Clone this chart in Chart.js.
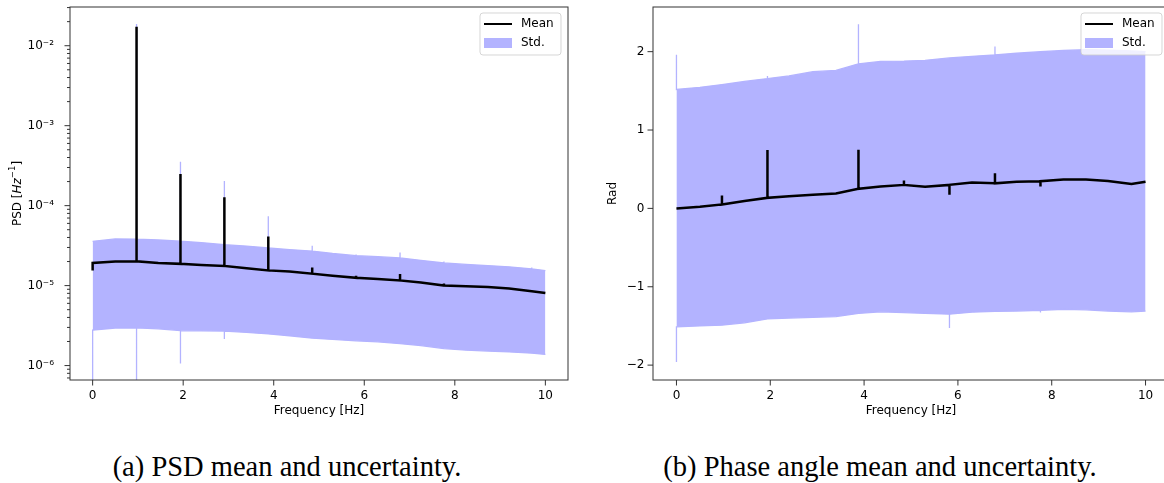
<!DOCTYPE html>
<html>
<head>
<meta charset="utf-8">
<script src="https://cdn.jsdelivr.net/npm/chart.js@4"></script>
<style>
  html, body { margin: 0; padding: 0; background: #fff; }
  body { width: 1164px; height: 483px; overflow: hidden; position: relative; }
  canvas { position: absolute; top: 0; }
  #psdChart { left: 0; }
  #phaseChart { left: 582px; }
  .cap { position: absolute; top: 453px; white-space: nowrap; transform: translateX(-50%);
         font-family: 'Liberation Serif', serif; font-size: 28.5px; line-height: 28px; color: #000; }
</style>
</head>
<body>
<canvas id="psdChart" width="582" height="420"></canvas>
<canvas id="phaseChart" width="600" height="420"></canvas>
<div class="cap" style="left:287px">(a) PSD mean and uncertainty.</div>
<div class="cap" style="left:880px">(b) Phase angle mean and uncertainty.</div>
<script>
// frequency grid (Hz), spikes sit on the 0.97 Hz harmonics
const freq = [0, 0.5, 0.97, 1.45, 1.94, 2.4, 2.91, 3.4, 3.88, 4.35, 4.85, 5.3, 5.82, 6.3, 6.79, 7.25, 7.76, 8.25, 8.73, 9.2, 9.70, 10]

// PSD (left)
const psdMean = [1.92e-5, 2.0e-5, 2.01e-5, 1.92e-5, 1.87e-5, 1.81e-5, 1.76e-5, 1.65e-5, 1.55e-5, 1.5e-5, 1.41e-5, 1.33e-5, 1.25e-5, 1.21e-5, 1.16e-5, 1.09e-5, 1.0e-5, 9.8e-6, 9.6e-6, 9.2e-6, 8.5e-6, 8.1e-6]
const psdMeanSpike = [1.54e-5, null, 1.73e-2, null, 2.49e-4, null, 1.27e-4, null, 4.1e-5, null, 1.69e-5, null, 1.33e-5, null, 1.4e-5, null, 1.06e-5, null, null, null, null, null]
const psdUpper = [3.58e-5, 3.83e-5, 3.82e-5, 3.72e-5, 3.6e-5, 3.45e-5, 3.25e-5, 3.12e-5, 2.96e-5, 2.82e-5, 2.7e-5, 2.52e-5, 2.37e-5, 2.3e-5, 2.22e-5, 2.07e-5, 1.92e-5, 1.84e-5, 1.78e-5, 1.72e-5, 1.62e-5, 1.54e-5]
const psdUpperSpike = [null, null, 1.87e-2, null, 3.55e-4, null, 2.04e-4, null, 7.35e-5, null, 3.16e-5, null, 2.45e-5, null, 2.6e-5, null, 2.0e-5, null, null, null, 1.68e-5, null]
const psdLower = [2.77e-6, 2.95e-6, 2.96e-6, 2.88e-6, 2.74e-6, 2.72e-6, 2.7e-6, 2.6e-6, 2.49e-6, 2.36e-6, 2.2e-6, 2.12e-6, 2.04e-6, 1.98e-6, 1.88e-6, 1.78e-6, 1.63e-6, 1.56e-6, 1.52e-6, 1.48e-6, 1.43e-6, 1.38e-6]
const psdLowerSpike = [3e-7, null, 3e-7, null, 1.06e-6, null, 2.15e-6, null, null, null, null, null, null, null, null, null, null, null, null, null, null, null]

// phase angle (right)
const phaseMean = [0.0, 0.02, 0.05, 0.095, 0.135, 0.155, 0.175, 0.19, 0.25, 0.28, 0.30, 0.275, 0.30, 0.33, 0.32, 0.34, 0.347, 0.37, 0.37, 0.35, 0.31, 0.34]
const phaseMeanSpike = [null, null, 0.165, null, 0.744, null, null, null, 0.748, null, 0.355, null, 0.174, null, 0.448, null, 0.279, null, null, null, null, null]
const phaseUpper = [1.517, 1.545, 1.58, 1.62, 1.656, 1.69, 1.745, 1.76, 1.845, 1.876, 1.88, 1.89, 1.92, 1.94, 1.96, 1.98, 2.0, 2.015, 2.025, 2.02, 2.01, 2.0]
const phaseUpperSpike = [1.96, null, null, null, 1.69, null, null, null, 2.35, null, null, null, null, null, 2.066, null, null, null, null, null, null, null]
const phaseLower = [-1.512, -1.50, -1.49, -1.46, -1.41, -1.40, -1.39, -1.38, -1.34, -1.32, -1.33, -1.34, -1.35, -1.325, -1.315, -1.31, -1.30, -1.29, -1.295, -1.31, -1.32, -1.31]
const phaseLowerSpike = [-1.96, null, null, null, null, null, null, null, null, null, null, null, -1.525, null, null, null, -1.33, null, null, null, null, null]

const xTicks = [0, 2, 4, 6, 8, 10]
const psdTicks = [1e-6, 1e-5, 1e-4, 1e-3, 1e-2]
const psdTickLabels = ['10⁻⁶', '10⁻⁵', '10⁻⁴', '10⁻³', '10⁻²']
const phaseTicks = [-2, -1, 0, 1, 2]
const phaseTickLabels = ['−2', '−1', '0', '1', '2']
const legendLabels = ['Mean', 'Std.']

const BAND = 'rgb(179,179,255)'
const AXIS = '#333'
Chart.defaults.font.family = 'DejaVu Sans'
Chart.defaults.font.size = 12
Chart.defaults.color = '#000'

// a spike is drawn as base -> peak -> base at the same frequency
function series(base, spikes, mask) {
	const pts = []
	freq.forEach((f, i) => {
		pts.push({ x: f, y: base[i] })
		if (mask[i]) {
			const p = spikes[i] !== null ? spikes[i] : base[i]
			pts.push({ x: f, y: p }, { x: f, y: base[i] })
		}
	})
	return pts
}
const maskOf = (...arrs) => freq.map((f, i) => arrs.some((a) => a[i] !== null))

function datasets(mean, meanSpk, up, upSpk, lo, loSpk) {
	const m = maskOf(meanSpk)
	const b = maskOf(upSpk, loSpk)
	return [
		{ label: legendLabels[0], data: series(mean, meanSpk, m), borderColor: '#000', borderWidth: 2.5, pointRadius: 0, fill: false },
		{ label: legendLabels[1], data: series(up, upSpk, b), borderColor: BAND, borderWidth: 1.3, pointRadius: 0, fill: false },
		{ label: '', data: series(lo, loSpk, b), borderColor: BAND, backgroundColor: BAND, borderWidth: 1.3, pointRadius: 0, fill: '-1' },
	]
}

const frame = {
	id: 'frame',
	afterDraw(chart) {
		const { ctx, chartArea: a, scales } = chart
		ctx.save()
		ctx.strokeStyle = AXIS
		ctx.lineWidth = 1
		ctx.strokeRect(a.left, a.top, a.right - a.left, a.bottom - a.top)
		ctx.beginPath()
		scales.x.ticks.forEach((t) => {
			const px = scales.x.getPixelForValue(t.value)
			ctx.moveTo(px, a.bottom)
			ctx.lineTo(px, a.bottom + 5.5)
		})
		scales.y.ticks.forEach((t) => {
			const py = scales.y.getPixelForValue(t.value)
			if (py < a.top - 0.5 || py > a.bottom + 0.5) return
			ctx.moveTo(a.left, py)
			ctx.lineTo(a.left - (t.major ? 5.5 : 3), py)
		})
		ctx.stroke()
		ctx.restore()
	},
}

const legendBox = {
	id: 'legendBox',
	afterDraw(chart) {
		const { ctx, chartArea: a } = chart
		const w = 81, h = 42
		const x0 = a.right - 7 - w, y0 = a.top + 6
		ctx.save()
		ctx.beginPath()
		ctx.roundRect(x0, y0, w, h, 3)
		ctx.fillStyle = 'rgba(255,255,255,0.8)'
		ctx.fill()
		ctx.strokeStyle = 'rgba(204,204,204,0.8)'
		ctx.lineWidth = 1
		ctx.stroke()
		ctx.beginPath()
		ctx.moveTo(x0 + 4, y0 + 11)
		ctx.lineTo(x0 + 32, y0 + 11)
		ctx.strokeStyle = '#000'
		ctx.lineWidth = 2
		ctx.stroke()
		ctx.fillStyle = BAND
		ctx.fillRect(x0 + 4, y0 + 25, 28, 10)
		ctx.fillStyle = '#000'
		ctx.font = '12px "DejaVu Sans"'
		ctx.textBaseline = 'middle'
		ctx.fillText(legendLabels[0], x0 + 41, y0 + 11)
		ctx.fillText(legendLabels[1], x0 + 41, y0 + 30)
		ctx.restore()
	},
}

// y title with italic Hz and a raised exponent
const psdTitle = {
	id: 'psdTitle',
	afterDraw(chart) {
		const { ctx, chartArea: a } = chart
		const parts = [
			{ t: 'PSD [', f: '12px "DejaVu Sans"', dy: 0 },
			{ t: 'Hz', f: 'italic 12px "DejaVu Sans"', dy: 0 },
			{ t: '−1', f: '8.5px "DejaVu Sans"', dy: -4.5 },
			{ t: ']', f: '12px "DejaVu Sans"', dy: 0 },
		]
		ctx.save()
		let total = 0
		parts.forEach((p) => { ctx.font = p.f; p.w = ctx.measureText(p.t).width; total += p.w })
		ctx.translate(17.5, (a.top + a.bottom) / 2)
		ctx.rotate(-Math.PI / 2)
		ctx.fillStyle = '#000'
		ctx.textBaseline = 'middle'
		let x = -total / 2
		parts.forEach((p) => { ctx.font = p.f; ctx.fillText(p.t, x, p.dy); x += p.w })
		ctx.restore()
	},
}

function xScale() {
	return {
		type: 'linear', min: -0.5, max: 10.5,
		afterBuildTicks: (s) => { s.ticks = xTicks.map((v) => ({ value: v, major: true })) },
		afterFit: (s) => { s.height = 40; s.paddingLeft = 0; s.paddingRight = 0 },
		grid: { display: false, drawTicks: false },
		border: { display: false },
		ticks: { padding: 9, autoSkip: false, maxRotation: 0, callback: (v) => String(v) },
		title: { display: true, text: 'Frequency [Hz]', padding: { top: 0, bottom: 2 } },
	}
}

var psdChart = new Chart(document.getElementById('psdChart').getContext('2d'), {
	type: 'line',
	data: { datasets: datasets(psdMean, psdMeanSpike, psdUpper, psdUpperSpike, psdLower, psdLowerSpike) },
	options: {
		responsive: false, animation: false,
		layout: { padding: { left: 0, top: 7, right: 14, bottom: 0 } },
		plugins: { legend: { display: false }, tooltip: { enabled: false } },
		scales: {
			x: xScale(),
			y: {
				type: 'logarithmic', min: 6.6e-7, max: 3.05e-2,
				afterBuildTicks: (s) => {
					const t = []
					psdTicks.forEach((d) => {
						for (let k = 1; k < 10; k++) {
							const v = d * k
							if (v >= s.min && v <= s.max) t.push({ value: v, major: k === 1 })
						}
					})
					const below = psdTicks[0] / 10
					for (let k = 7; k < 10; k++) if (below * k >= s.min) t.unshift({ value: below * k, major: false })
					s.ticks = t
				},
				afterFit: (s) => { s.width = 70; s.paddingTop = 0; s.paddingBottom = 0 },
				grid: { display: false, drawTicks: false },
				border: { display: false },
				ticks: {
					padding: 16, autoSkip: false,
					callback: (v) => { const i = psdTicks.findIndex((p) => Math.abs(p - v) / p < 1e-6); return i >= 0 ? psdTickLabels[i] : '' },
				},
			},
		},
	},
	plugins: [frame, legendBox, psdTitle],
})

var phaseChart = new Chart(document.getElementById('phaseChart').getContext('2d'), {
	type: 'line',
	data: { datasets: datasets(phaseMean, phaseMeanSpike, phaseUpper, phaseUpperSpike, phaseLower, phaseLowerSpike) },
	options: {
		responsive: false, animation: false,
		layout: { padding: { left: 0, top: 7, right: 13, bottom: 0 } },
		plugins: { legend: { display: false }, tooltip: { enabled: false } },
		scales: {
			x: xScale(),
			y: {
				type: 'linear', min: -2.19, max: 2.57,
				afterBuildTicks: (s) => { s.ticks = phaseTicks.map((v) => ({ value: v, major: true })) },
				afterFit: (s) => { s.width = 71; s.paddingTop = 0; s.paddingBottom = 0 },
				grid: { display: false, drawTicks: false },
				border: { display: false },
				ticks: { padding: 8.5, autoSkip: false, callback: (v) => phaseTickLabels[phaseTicks.indexOf(v)] },
				title: { display: true, text: 'Rad', padding: { top: 24, bottom: 0 } },
			},
		},
	},
	plugins: [frame, legendBox],
})
</script>
</body>
</html>
